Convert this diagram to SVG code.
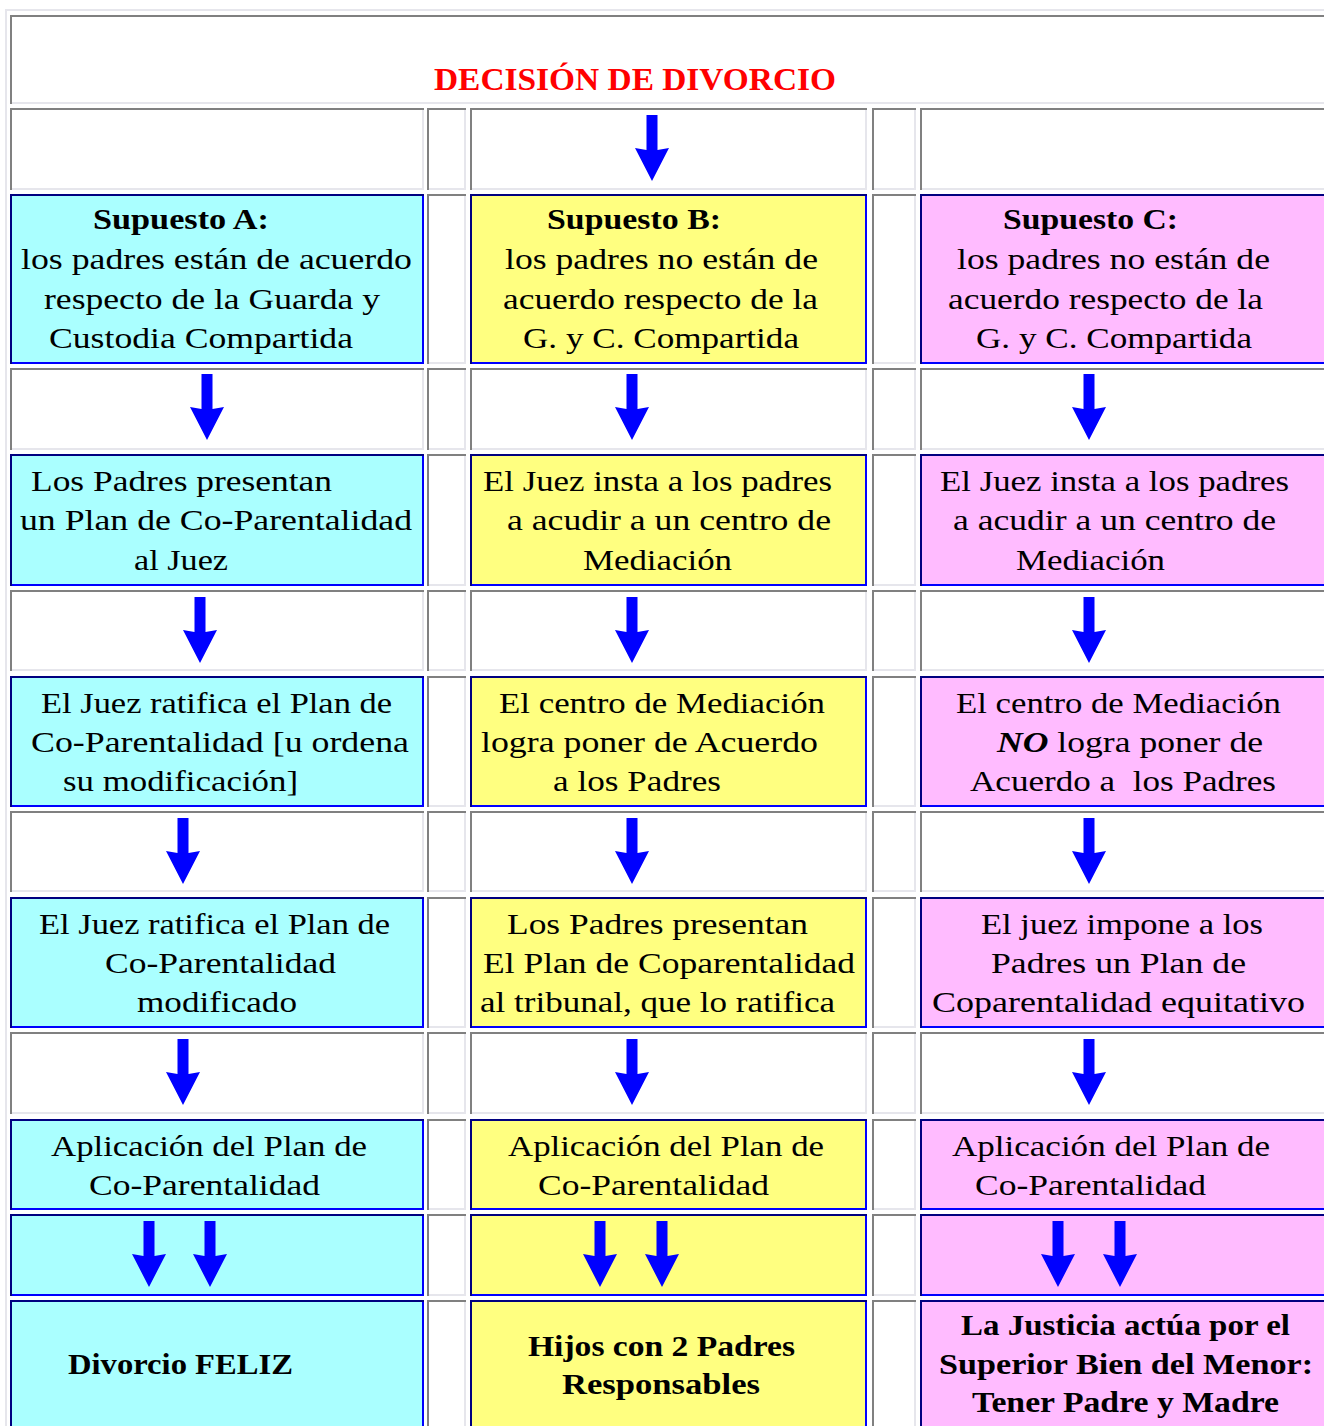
<svg xmlns="http://www.w3.org/2000/svg" xmlns:xlink="http://www.w3.org/1999/xlink" width="1324" height="1426" viewBox="0 0 1324 1426">
<style>
.t{font-family:"Liberation Serif","Times New Roman",serif;font-size:30px;fill:#000}
.b{font-weight:bold}
.h{font-family:"Liberation Serif","Times New Roman",serif;font-size:32px;font-weight:bold;fill:#ff0000}
.w{fill:#ffffff}
.ca{fill:#aaffff}
.cb{fill:#ffff80}
.cc{fill:#ffbbff}
.gbr{stroke:#e6e6ec;stroke-width:2}
.gtl{fill:none;stroke:#808080;stroke-width:2}
.bbr{stroke:#0000ff;stroke-width:2}
.btl{fill:none;stroke:#000080;stroke-width:2}
.arr{fill:#0000ff}
</style>
<defs>
<path id="arr" d="M-5.5,0 H5.5 V35 L17,33 L0,66 L-17,33 L-5.5,35 Z"/>
</defs>
<rect x="0" y="0" width="1324" height="1426" fill="#ffffff"/>
<path d="M6,1426 V10 H1324" fill="none" stroke="#e6e6ec" stroke-width="2"/>

<g id="header">
<rect class="w gbr" x="11" y="16" width="1340" height="87"/>
<path class="gtl" d="M11,104 V16 H1352"/>
<text class="h" x="434" y="90" textLength="402" lengthAdjust="spacingAndGlyphs">DECISIÓN DE DIVORCIO</text>
</g>

<g id="row2">
<rect class="w gbr" x="11" y="109" width="412" height="80"/><path class="gtl" d="M11,190 V109 H424"/>
<rect class="w gbr" x="428" y="109" width="37" height="80"/><path class="gtl" d="M428,190 V109 H466"/>
<rect class="w gbr" x="471" y="109" width="395" height="80"/><path class="gtl" d="M471,190 V109 H867"/>
<rect class="w gbr" x="873" y="109" width="42" height="80"/><path class="gtl" d="M873,190 V109 H916"/>
<rect class="w gbr" x="921" y="109" width="430" height="80"/><path class="gtl" d="M921,190 V109 H1352"/>
</g>
<g id="row4">
<rect class="w gbr" x="11" y="369" width="412" height="80"/><path class="gtl" d="M11,450 V369 H424"/>
<rect class="w gbr" x="428" y="369" width="37" height="80"/><path class="gtl" d="M428,450 V369 H466"/>
<rect class="w gbr" x="471" y="369" width="395" height="80"/><path class="gtl" d="M471,450 V369 H867"/>
<rect class="w gbr" x="873" y="369" width="42" height="80"/><path class="gtl" d="M873,450 V369 H916"/>
<rect class="w gbr" x="921" y="369" width="430" height="80"/><path class="gtl" d="M921,450 V369 H1352"/>
</g>
<g id="row6">
<rect class="w gbr" x="11" y="591" width="412" height="79"/><path class="gtl" d="M11,671 V591 H424"/>
<rect class="w gbr" x="428" y="591" width="37" height="79"/><path class="gtl" d="M428,671 V591 H466"/>
<rect class="w gbr" x="471" y="591" width="395" height="79"/><path class="gtl" d="M471,671 V591 H867"/>
<rect class="w gbr" x="873" y="591" width="42" height="79"/><path class="gtl" d="M873,671 V591 H916"/>
<rect class="w gbr" x="921" y="591" width="430" height="79"/><path class="gtl" d="M921,671 V591 H1352"/>
</g>
<g id="row8">
<rect class="w gbr" x="11" y="812" width="412" height="79"/><path class="gtl" d="M11,892 V812 H424"/>
<rect class="w gbr" x="428" y="812" width="37" height="79"/><path class="gtl" d="M428,892 V812 H466"/>
<rect class="w gbr" x="471" y="812" width="395" height="79"/><path class="gtl" d="M471,892 V812 H867"/>
<rect class="w gbr" x="873" y="812" width="42" height="79"/><path class="gtl" d="M873,892 V812 H916"/>
<rect class="w gbr" x="921" y="812" width="430" height="79"/><path class="gtl" d="M921,892 V812 H1352"/>
</g>
<g id="row10">
<rect class="w gbr" x="11" y="1033" width="412" height="80"/><path class="gtl" d="M11,1114 V1033 H424"/>
<rect class="w gbr" x="428" y="1033" width="37" height="80"/><path class="gtl" d="M428,1114 V1033 H466"/>
<rect class="w gbr" x="471" y="1033" width="395" height="80"/><path class="gtl" d="M471,1114 V1033 H867"/>
<rect class="w gbr" x="873" y="1033" width="42" height="80"/><path class="gtl" d="M873,1114 V1033 H916"/>
<rect class="w gbr" x="921" y="1033" width="430" height="80"/><path class="gtl" d="M921,1114 V1033 H1352"/>
</g>

<g id="spacers">
<rect class="w gbr" x="428" y="195" width="37" height="168"/><path class="gtl" d="M428,364 V195 H466"/>
<rect class="w gbr" x="873" y="195" width="42" height="168"/><path class="gtl" d="M873,364 V195 H916"/>
<rect class="w gbr" x="428" y="455" width="37" height="130"/><path class="gtl" d="M428,586 V455 H466"/>
<rect class="w gbr" x="873" y="455" width="42" height="130"/><path class="gtl" d="M873,586 V455 H916"/>
<rect class="w gbr" x="428" y="677" width="37" height="129"/><path class="gtl" d="M428,807 V677 H466"/>
<rect class="w gbr" x="873" y="677" width="42" height="129"/><path class="gtl" d="M873,807 V677 H916"/>
<rect class="w gbr" x="428" y="898" width="37" height="129"/><path class="gtl" d="M428,1028 V898 H466"/>
<rect class="w gbr" x="873" y="898" width="42" height="129"/><path class="gtl" d="M873,1028 V898 H916"/>
<rect class="w gbr" x="428" y="1120" width="37" height="89"/><path class="gtl" d="M428,1210 V1120 H466"/>
<rect class="w gbr" x="873" y="1120" width="42" height="89"/><path class="gtl" d="M873,1210 V1120 H916"/>
<rect class="w gbr" x="428" y="1215" width="37" height="80"/><path class="gtl" d="M428,1296 V1215 H466"/>
<rect class="w gbr" x="873" y="1215" width="42" height="80"/><path class="gtl" d="M873,1296 V1215 H916"/>
<rect class="w gbr" x="428" y="1301" width="37" height="140"/><path class="gtl" d="M428,1442 V1301 H466"/>
<rect class="w gbr" x="873" y="1301" width="42" height="140"/><path class="gtl" d="M873,1442 V1301 H916"/>
</g>

<g id="a1">
<rect class="ca bbr" x="11" y="195" width="412" height="168"/><path class="btl" d="M11,364 V195 H424"/>
<text class="t b" x="93" y="229" textLength="176" lengthAdjust="spacingAndGlyphs">Supuesto A:</text>
<text class="t" x="21" y="269" textLength="391" lengthAdjust="spacingAndGlyphs">los padres están de acuerdo</text>
<text class="t" x="44" y="309" textLength="336" lengthAdjust="spacingAndGlyphs">respecto de la Guarda y</text>
<text class="t" x="49" y="348" textLength="304" lengthAdjust="spacingAndGlyphs">Custodia Compartida</text>
</g>
<g id="a2">
<rect class="ca bbr" x="11" y="455" width="412" height="130"/><path class="btl" d="M11,586 V455 H424"/>
<text class="t" x="31" y="491" textLength="301" lengthAdjust="spacingAndGlyphs">Los Padres presentan</text>
<text class="t" x="20" y="530" textLength="392" lengthAdjust="spacingAndGlyphs">un Plan de Co-Parentalidad</text>
<text class="t" x="134" y="570" textLength="94" lengthAdjust="spacingAndGlyphs">al Juez</text>
</g>
<g id="a3">
<rect class="ca bbr" x="11" y="677" width="412" height="129"/><path class="btl" d="M11,807 V677 H424"/>
<text class="t" x="41" y="713" textLength="351" lengthAdjust="spacingAndGlyphs">El Juez ratifica el Plan de</text>
<text class="t" x="31" y="752" textLength="378" lengthAdjust="spacingAndGlyphs">Co-Parentalidad [u ordena</text>
<text class="t" x="63" y="791" textLength="235" lengthAdjust="spacingAndGlyphs">su modificación]</text>
</g>
<g id="a4">
<rect class="ca bbr" x="11" y="898" width="412" height="129"/><path class="btl" d="M11,1028 V898 H424"/>
<text class="t" x="39" y="934" textLength="351" lengthAdjust="spacingAndGlyphs">El Juez ratifica el Plan de</text>
<text class="t" x="105" y="973" textLength="231" lengthAdjust="spacingAndGlyphs">Co-Parentalidad</text>
<text class="t" x="137" y="1012" textLength="160" lengthAdjust="spacingAndGlyphs">modificado</text>
</g>
<g id="a5">
<rect class="ca bbr" x="11" y="1120" width="412" height="89"/><path class="btl" d="M11,1210 V1120 H424"/>
<text class="t" x="51" y="1156" textLength="316" lengthAdjust="spacingAndGlyphs">Aplicación del Plan de</text>
<text class="t" x="89" y="1195" textLength="231" lengthAdjust="spacingAndGlyphs">Co-Parentalidad</text>
</g>
<g id="a6">
<rect class="ca bbr" x="11" y="1215" width="412" height="80"/><path class="btl" d="M11,1296 V1215 H424"/>
</g>
<g id="a7">
<rect class="ca bbr" x="11" y="1301" width="412" height="140"/><path class="btl" d="M11,1442 V1301 H424"/>
<text class="t b" x="68" y="1374" textLength="225" lengthAdjust="spacingAndGlyphs">Divorcio FELIZ</text>
</g>

<g id="b1">
<rect class="cb bbr" x="471" y="195" width="395" height="168"/><path class="btl" d="M471,364 V195 H867"/>
<text class="t b" x="547" y="229" textLength="174" lengthAdjust="spacingAndGlyphs">Supuesto B:</text>
<text class="t" x="505" y="269" textLength="313" lengthAdjust="spacingAndGlyphs">los padres no están de</text>
<text class="t" x="503" y="309" textLength="315" lengthAdjust="spacingAndGlyphs">acuerdo respecto de la</text>
<text class="t" x="523" y="348" textLength="276" lengthAdjust="spacingAndGlyphs">G. y C. Compartida</text>
</g>
<g id="b2">
<rect class="cb bbr" x="471" y="455" width="395" height="130"/><path class="btl" d="M471,586 V455 H867"/>
<text class="t" x="483" y="491" textLength="349" lengthAdjust="spacingAndGlyphs">El Juez insta a los padres</text>
<text class="t" x="507" y="530" textLength="324" lengthAdjust="spacingAndGlyphs">a acudir a un centro de</text>
<text class="t" x="583" y="570" textLength="149" lengthAdjust="spacingAndGlyphs">Mediación</text>
</g>
<g id="b3">
<rect class="cb bbr" x="471" y="677" width="395" height="129"/><path class="btl" d="M471,807 V677 H867"/>
<text class="t" x="499" y="713" textLength="326" lengthAdjust="spacingAndGlyphs">El centro de Mediación</text>
<text class="t" x="481" y="752" textLength="337" lengthAdjust="spacingAndGlyphs">logra poner de Acuerdo</text>
<text class="t" x="553" y="791" textLength="168" lengthAdjust="spacingAndGlyphs">a los Padres</text>
</g>
<g id="b4">
<rect class="cb bbr" x="471" y="898" width="395" height="129"/><path class="btl" d="M471,1028 V898 H867"/>
<text class="t" x="507" y="934" textLength="301" lengthAdjust="spacingAndGlyphs">Los Padres presentan</text>
<text class="t" x="483" y="973" textLength="372" lengthAdjust="spacingAndGlyphs">El Plan de Coparentalidad</text>
<text class="t" x="480" y="1012" textLength="355" lengthAdjust="spacingAndGlyphs">al tribunal, que lo ratifica</text>
</g>
<g id="b5">
<rect class="cb bbr" x="471" y="1120" width="395" height="89"/><path class="btl" d="M471,1210 V1120 H867"/>
<text class="t" x="508" y="1156" textLength="316" lengthAdjust="spacingAndGlyphs">Aplicación del Plan de</text>
<text class="t" x="538" y="1195" textLength="231" lengthAdjust="spacingAndGlyphs">Co-Parentalidad</text>
</g>
<g id="b6">
<rect class="cb bbr" x="471" y="1215" width="395" height="80"/><path class="btl" d="M471,1296 V1215 H867"/>
</g>
<g id="b7">
<rect class="cb bbr" x="471" y="1301" width="395" height="140"/><path class="btl" d="M471,1442 V1301 H867"/>
<text class="t b" x="528" y="1356" textLength="267" lengthAdjust="spacingAndGlyphs">Hijos con 2 Padres</text>
<text class="t b" x="562" y="1394" textLength="198" lengthAdjust="spacingAndGlyphs">Responsables</text>
</g>

<g id="c1">
<rect class="cc bbr" x="921" y="195" width="430" height="168"/><path class="btl" d="M921,364 V195 H1352"/>
<text class="t b" x="1003" y="229" textLength="175" lengthAdjust="spacingAndGlyphs">Supuesto C:</text>
<text class="t" x="957" y="269" textLength="313" lengthAdjust="spacingAndGlyphs">los padres no están de</text>
<text class="t" x="948" y="309" textLength="315" lengthAdjust="spacingAndGlyphs">acuerdo respecto de la</text>
<text class="t" x="976" y="348" textLength="276" lengthAdjust="spacingAndGlyphs">G. y C. Compartida</text>
</g>
<g id="c2">
<rect class="cc bbr" x="921" y="455" width="430" height="130"/><path class="btl" d="M921,586 V455 H1352"/>
<text class="t" x="940" y="491" textLength="349" lengthAdjust="spacingAndGlyphs">El Juez insta a los padres</text>
<text class="t" x="953" y="530" textLength="323" lengthAdjust="spacingAndGlyphs">a acudir a un centro de</text>
<text class="t" x="1016" y="570" textLength="149" lengthAdjust="spacingAndGlyphs">Mediación</text>
</g>
<g id="c3">
<rect class="cc bbr" x="921" y="677" width="430" height="129"/><path class="btl" d="M921,807 V677 H1352"/>
<text class="t" x="956" y="713" textLength="325" lengthAdjust="spacingAndGlyphs">El centro de Mediación</text>
<text class="t" x="997" y="752" textLength="266" lengthAdjust="spacingAndGlyphs"><tspan font-weight="bold" font-style="italic">NO</tspan> logra poner de</text>
<text class="t" x="970" y="791" textLength="306" lengthAdjust="spacingAndGlyphs">Acuerdo a&#160; los Padres</text>
</g>
<g id="c4">
<rect class="cc bbr" x="921" y="898" width="430" height="129"/><path class="btl" d="M921,1028 V898 H1352"/>
<text class="t" x="981" y="934" textLength="282" lengthAdjust="spacingAndGlyphs">El juez impone a los</text>
<text class="t" x="991" y="973" textLength="255" lengthAdjust="spacingAndGlyphs">Padres un Plan de</text>
<text class="t" x="932" y="1012" textLength="373" lengthAdjust="spacingAndGlyphs">Coparentalidad equitativo</text>
</g>
<g id="c5">
<rect class="cc bbr" x="921" y="1120" width="430" height="89"/><path class="btl" d="M921,1210 V1120 H1352"/>
<text class="t" x="952" y="1156" textLength="318" lengthAdjust="spacingAndGlyphs">Aplicación del Plan de</text>
<text class="t" x="975" y="1195" textLength="231" lengthAdjust="spacingAndGlyphs">Co-Parentalidad</text>
</g>
<g id="c6">
<rect class="cc bbr" x="921" y="1215" width="430" height="80"/><path class="btl" d="M921,1296 V1215 H1352"/>
</g>
<g id="c7">
<rect class="cc bbr" x="921" y="1301" width="430" height="140"/><path class="btl" d="M921,1442 V1301 H1352"/>
<text class="t b" x="961" y="1335" textLength="329" lengthAdjust="spacingAndGlyphs">La Justicia actúa por el</text>
<text class="t b" x="939" y="1374" textLength="374" lengthAdjust="spacingAndGlyphs">Superior Bien del Menor:</text>
<text class="t b" x="972" y="1412" textLength="307" lengthAdjust="spacingAndGlyphs">Tener Padre y Madre</text>
</g>

<g id="connectors" class="arr">
<use href="#arr" xlink:href="#arr" x="652" y="115"/>
<use href="#arr" xlink:href="#arr" x="207" y="374"/>
<use href="#arr" xlink:href="#arr" x="632" y="374"/>
<use href="#arr" xlink:href="#arr" x="1089" y="374"/>
<use href="#arr" xlink:href="#arr" x="200" y="597"/>
<use href="#arr" xlink:href="#arr" x="632" y="597"/>
<use href="#arr" xlink:href="#arr" x="1089" y="597"/>
<use href="#arr" xlink:href="#arr" x="183" y="818"/>
<use href="#arr" xlink:href="#arr" x="632" y="818"/>
<use href="#arr" xlink:href="#arr" x="1089" y="818"/>
<use href="#arr" xlink:href="#arr" x="183" y="1039"/>
<use href="#arr" xlink:href="#arr" x="632" y="1039"/>
<use href="#arr" xlink:href="#arr" x="1089" y="1039"/>
<use href="#arr" xlink:href="#arr" x="149" y="1221"/>
<use href="#arr" xlink:href="#arr" x="210" y="1221"/>
<use href="#arr" xlink:href="#arr" x="600" y="1221"/>
<use href="#arr" xlink:href="#arr" x="662" y="1221"/>
<use href="#arr" xlink:href="#arr" x="1058" y="1221"/>
<use href="#arr" xlink:href="#arr" x="1120" y="1221"/>
</g>
</svg>
